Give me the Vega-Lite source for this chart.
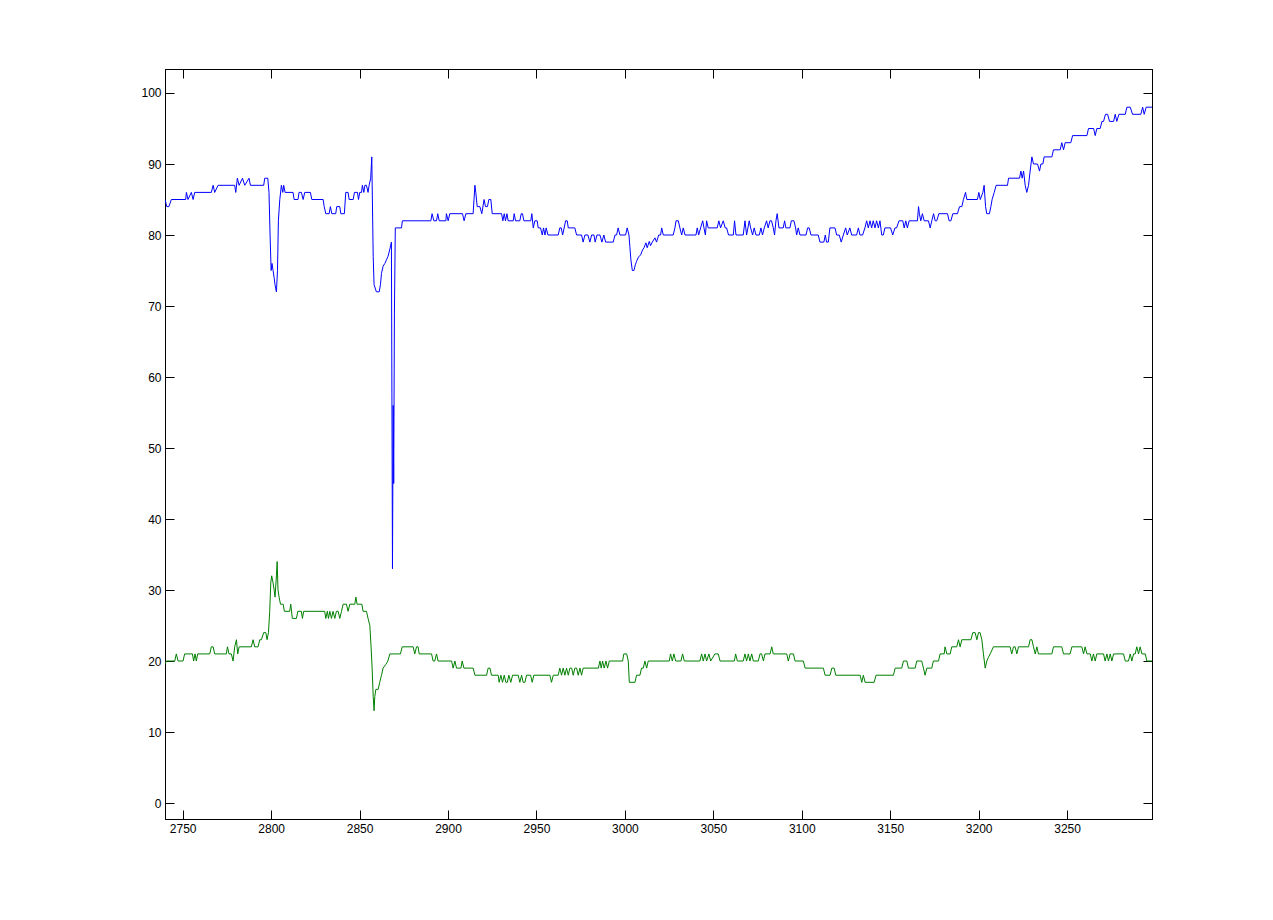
{
  "$schema": "https://vega.github.io/schema/vega-lite/v6.json",
  "width": 987,
  "height": 750,
  "autosize": {"type": "none"},
  "padding": {"left": 165, "top": 69, "right": 121, "bottom": 101},
  "background": "white",
  "config": {
    "view": {"stroke": "black", "strokeWidth": 1},
    "axis": {
      "grid": false,
      "domainColor": "black",
      "domainWidth": 1,
      "tickColor": "black",
      "tickWidth": 1,
      "tickSize": -9,
      "labelColor": "black",
      "labelFont": "Liberation Sans",
      "labelFontSize": 12,
      "title": null
    }
  },
  "datasets": {
    "blue": [
      {"x": 2740, "y": 85}, {"x": 2741, "y": 84}, {"x": 2742.2, "y": 84}, {"x": 2743.6, "y": 85},
      {"x": 2751.7, "y": 85}, {"x": 2752.1, "y": 86}, {"x": 2753, "y": 85}, {"x": 2754.9, "y": 86},
      {"x": 2755.9, "y": 85}, {"x": 2756.8, "y": 86}, {"x": 2766.2, "y": 86}, {"x": 2767.2, "y": 87},
      {"x": 2768.1, "y": 86}, {"x": 2770, "y": 87}, {"x": 2779.4, "y": 87}, {"x": 2780, "y": 86},
      {"x": 2780.9, "y": 88}, {"x": 2781.9, "y": 87}, {"x": 2783.8, "y": 88}, {"x": 2785.1, "y": 87},
      {"x": 2787.5, "y": 88}, {"x": 2788.3, "y": 87}, {"x": 2795.8, "y": 87}, {"x": 2796.4, "y": 88},
      {"x": 2798.1, "y": 88}, {"x": 2798.8, "y": 86}, {"x": 2799.4, "y": 80}, {"x": 2800, "y": 75},
      {"x": 2800.5, "y": 76}, {"x": 2801.1, "y": 75}, {"x": 2801.7, "y": 74}, {"x": 2802.2, "y": 73},
      {"x": 2803, "y": 72}, {"x": 2803.6, "y": 75}, {"x": 2804.1, "y": 82}, {"x": 2804.9, "y": 85},
      {"x": 2805.8, "y": 87}, {"x": 2806.6, "y": 86}, {"x": 2807.1, "y": 87}, {"x": 2807.9, "y": 86},
      {"x": 2812.4, "y": 86}, {"x": 2813, "y": 85}, {"x": 2815.2, "y": 85}, {"x": 2815.8, "y": 86},
      {"x": 2817.1, "y": 86}, {"x": 2818.1, "y": 85}, {"x": 2819, "y": 86}, {"x": 2822.2, "y": 86},
      {"x": 2823, "y": 85}, {"x": 2829.4, "y": 85}, {"x": 2830, "y": 84}, {"x": 2830.9, "y": 83},
      {"x": 2832.8, "y": 83}, {"x": 2833.5, "y": 84}, {"x": 2834.3, "y": 83}, {"x": 2836.5, "y": 83},
      {"x": 2837.1, "y": 84}, {"x": 2838.8, "y": 84}, {"x": 2839.4, "y": 83}, {"x": 2841.4, "y": 83},
      {"x": 2842.2, "y": 86}, {"x": 2843.5, "y": 86}, {"x": 2844.1, "y": 85}, {"x": 2846.4, "y": 85},
      {"x": 2847.1, "y": 86}, {"x": 2848.8, "y": 86}, {"x": 2849.4, "y": 85}, {"x": 2850.1, "y": 86},
      {"x": 2851.1, "y": 86}, {"x": 2851.6, "y": 87}, {"x": 2852.4, "y": 86}, {"x": 2853, "y": 87},
      {"x": 2853.9, "y": 87}, {"x": 2854.8, "y": 86}, {"x": 2855.4, "y": 87}, {"x": 2856.3, "y": 88},
      {"x": 2856.9, "y": 91}, {"x": 2857.7, "y": 77}, {"x": 2858.2, "y": 73}, {"x": 2859.5, "y": 72},
      {"x": 2861.1, "y": 72}, {"x": 2861.8, "y": 73}, {"x": 2862.4, "y": 74.6}, {"x": 2863.3, "y": 75.6},
      {"x": 2864.3, "y": 76}, {"x": 2865.2, "y": 76.5}, {"x": 2866.1, "y": 77}, {"x": 2867.1, "y": 78},
      {"x": 2868, "y": 79}, {"x": 2868.6, "y": 33}, {"x": 2869.0, "y": 56}, {"x": 2869.3, "y": 45},
      {"x": 2869.7, "y": 69}, {"x": 2870.2, "y": 81}, {"x": 2873.7, "y": 81}, {"x": 2874.2, "y": 82},
      {"x": 2890.3, "y": 82}, {"x": 2891.0, "y": 83}, {"x": 2892.0, "y": 82}, {"x": 2893.5, "y": 82},
      {"x": 2894.2, "y": 83}, {"x": 2895.0, "y": 82}, {"x": 2898.8, "y": 82}, {"x": 2899.1, "y": 83},
      {"x": 2900.1, "y": 82}, {"x": 2901.0, "y": 83}, {"x": 2908.2, "y": 83}, {"x": 2909.1, "y": 82},
      {"x": 2910.1, "y": 83}, {"x": 2914.2, "y": 83}, {"x": 2915.2, "y": 87}, {"x": 2915.7, "y": 86},
      {"x": 2916.5, "y": 84}, {"x": 2918.0, "y": 84}, {"x": 2919.1, "y": 83}, {"x": 2920.4, "y": 85},
      {"x": 2921.2, "y": 84}, {"x": 2922.3, "y": 84}, {"x": 2923.1, "y": 85}, {"x": 2924.2, "y": 85},
      {"x": 2925.0, "y": 83}, {"x": 2930.3, "y": 83}, {"x": 2931.0, "y": 82}, {"x": 2931.8, "y": 83},
      {"x": 2932.5, "y": 82}, {"x": 2933.3, "y": 83}, {"x": 2934.0, "y": 82}, {"x": 2936.9, "y": 82},
      {"x": 2937.4, "y": 83}, {"x": 2938.2, "y": 82}, {"x": 2940.6, "y": 82}, {"x": 2941.4, "y": 83},
      {"x": 2942.1, "y": 83}, {"x": 2942.9, "y": 82}, {"x": 2946.8, "y": 82}, {"x": 2947.4, "y": 83},
      {"x": 2948.2, "y": 81}, {"x": 2949.1, "y": 82}, {"x": 2950.4, "y": 82}, {"x": 2951.0, "y": 81},
      {"x": 2952.3, "y": 81}, {"x": 2953.3, "y": 80}, {"x": 2954.0, "y": 81}, {"x": 2954.8, "y": 80},
      {"x": 2955.5, "y": 81}, {"x": 2956.5, "y": 80}, {"x": 2962.3, "y": 80}, {"x": 2963.2, "y": 81},
      {"x": 2964.0, "y": 81}, {"x": 2964.8, "y": 80}, {"x": 2966.5, "y": 82}, {"x": 2967.4, "y": 82},
      {"x": 2968.0, "y": 81}, {"x": 2971.7, "y": 81}, {"x": 2972.7, "y": 80}, {"x": 2975.5, "y": 80},
      {"x": 2976.4, "y": 79}, {"x": 2977.4, "y": 80}, {"x": 2979.1, "y": 80}, {"x": 2980.2, "y": 79},
      {"x": 2981.2, "y": 80}, {"x": 2982.5, "y": 80}, {"x": 2983.2, "y": 79}, {"x": 2984.2, "y": 80},
      {"x": 2985.9, "y": 80}, {"x": 2987.0, "y": 79}, {"x": 2988.1, "y": 80}, {"x": 2989.1, "y": 79},
      {"x": 2993.4, "y": 79}, {"x": 2994.4, "y": 80}, {"x": 2995.3, "y": 80}, {"x": 2996.2, "y": 81},
      {"x": 2997.2, "y": 80}, {"x": 3000.4, "y": 80}, {"x": 3001.3, "y": 81}, {"x": 3002.3, "y": 80},
      {"x": 3002.8, "y": 78.4}, {"x": 3003.4, "y": 76.5}, {"x": 3004.2, "y": 75}, {"x": 3005.1, "y": 75},
      {"x": 3005.9, "y": 75.8}, {"x": 3006.6, "y": 76.3}, {"x": 3007.7, "y": 76.9}, {"x": 3008.9, "y": 77.2},
      {"x": 3010.0, "y": 77.9}, {"x": 3010.8, "y": 78.2}, {"x": 3011.9, "y": 78.9}, {"x": 3012.6, "y": 78.2},
      {"x": 3013.8, "y": 79.1}, {"x": 3014.5, "y": 78.5}, {"x": 3015.5, "y": 79}, {"x": 3017.0, "y": 79.6},
      {"x": 3017.9, "y": 79}, {"x": 3019.1, "y": 80}, {"x": 3020.2, "y": 80}, {"x": 3020.8, "y": 81},
      {"x": 3021.7, "y": 80}, {"x": 3027.3, "y": 80}, {"x": 3028.3, "y": 81}, {"x": 3028.9, "y": 82},
      {"x": 3030.2, "y": 82}, {"x": 3031.1, "y": 81}, {"x": 3032.1, "y": 80}, {"x": 3033.0, "y": 81},
      {"x": 3034.0, "y": 80}, {"x": 3040.2, "y": 80}, {"x": 3040.9, "y": 81}, {"x": 3041.7, "y": 80},
      {"x": 3042.8, "y": 81}, {"x": 3044.0, "y": 82}, {"x": 3044.7, "y": 81}, {"x": 3045.5, "y": 80},
      {"x": 3046.2, "y": 82}, {"x": 3047.1, "y": 81}, {"x": 3052.2, "y": 81}, {"x": 3053.1, "y": 82},
      {"x": 3054.1, "y": 81}, {"x": 3055.6, "y": 82}, {"x": 3056.7, "y": 81}, {"x": 3057.5, "y": 81},
      {"x": 3058.6, "y": 80}, {"x": 3061.3, "y": 80}, {"x": 3062.0, "y": 82}, {"x": 3062.8, "y": 80},
      {"x": 3066.9, "y": 80}, {"x": 3067.9, "y": 82}, {"x": 3068.8, "y": 80}, {"x": 3070.3, "y": 82},
      {"x": 3071.1, "y": 81}, {"x": 3072.2, "y": 80}, {"x": 3073.1, "y": 81}, {"x": 3074.1, "y": 80},
      {"x": 3076.0, "y": 80}, {"x": 3076.9, "y": 81}, {"x": 3077.8, "y": 80}, {"x": 3078.8, "y": 81},
      {"x": 3080.1, "y": 82}, {"x": 3081.0, "y": 81}, {"x": 3082.0, "y": 82}, {"x": 3082.9, "y": 82},
      {"x": 3083.9, "y": 81}, {"x": 3084.6, "y": 80}, {"x": 3085.4, "y": 82}, {"x": 3086.1, "y": 83},
      {"x": 3087.1, "y": 81}, {"x": 3089.5, "y": 81}, {"x": 3090.3, "y": 82}, {"x": 3091.0, "y": 81},
      {"x": 3093.3, "y": 81}, {"x": 3094.1, "y": 82}, {"x": 3095.6, "y": 82}, {"x": 3096.5, "y": 81},
      {"x": 3097.1, "y": 80}, {"x": 3098.0, "y": 81}, {"x": 3099.0, "y": 80}, {"x": 3102.4, "y": 80},
      {"x": 3103.3, "y": 81}, {"x": 3104.2, "y": 81}, {"x": 3105.2, "y": 80}, {"x": 3109.3, "y": 80},
      {"x": 3110.3, "y": 79}, {"x": 3112.5, "y": 79}, {"x": 3113.3, "y": 80}, {"x": 3114.0, "y": 79},
      {"x": 3115.0, "y": 79}, {"x": 3115.9, "y": 81}, {"x": 3118.8, "y": 81}, {"x": 3119.7, "y": 80},
      {"x": 3121.2, "y": 80}, {"x": 3122.3, "y": 79}, {"x": 3123.5, "y": 80}, {"x": 3124.8, "y": 81},
      {"x": 3125.7, "y": 80}, {"x": 3127.2, "y": 81}, {"x": 3128.2, "y": 80}, {"x": 3131.0, "y": 80},
      {"x": 3132.0, "y": 81}, {"x": 3132.9, "y": 80}, {"x": 3134.4, "y": 80}, {"x": 3135.7, "y": 81},
      {"x": 3136.7, "y": 82}, {"x": 3137.6, "y": 81}, {"x": 3138.6, "y": 82}, {"x": 3139.5, "y": 81},
      {"x": 3140.4, "y": 82}, {"x": 3141.4, "y": 81}, {"x": 3142.3, "y": 82}, {"x": 3143.3, "y": 81},
      {"x": 3144.2, "y": 82}, {"x": 3145.2, "y": 80}, {"x": 3146.1, "y": 80}, {"x": 3147.0, "y": 81},
      {"x": 3150.2, "y": 81}, {"x": 3151.4, "y": 80}, {"x": 3152.7, "y": 81}, {"x": 3153.6, "y": 81},
      {"x": 3155.0, "y": 82}, {"x": 3157.1, "y": 82}, {"x": 3157.9, "y": 81}, {"x": 3158.8, "y": 82},
      {"x": 3159.7, "y": 81}, {"x": 3160.7, "y": 82}, {"x": 3165.4, "y": 82}, {"x": 3166.0, "y": 84},
      {"x": 3166.5, "y": 83}, {"x": 3167.3, "y": 82}, {"x": 3168.2, "y": 83}, {"x": 3169.2, "y": 82},
      {"x": 3171.6, "y": 82}, {"x": 3172.6, "y": 81}, {"x": 3173.5, "y": 82}, {"x": 3174.5, "y": 83},
      {"x": 3175.4, "y": 82}, {"x": 3176.3, "y": 82}, {"x": 3177.5, "y": 83}, {"x": 3182.4, "y": 83},
      {"x": 3183.3, "y": 82}, {"x": 3184.3, "y": 82}, {"x": 3185.4, "y": 83}, {"x": 3188.0, "y": 83},
      {"x": 3189.2, "y": 84}, {"x": 3190.5, "y": 84}, {"x": 3191.4, "y": 85}, {"x": 3192.6, "y": 86},
      {"x": 3193.3, "y": 85}, {"x": 3199.3, "y": 85}, {"x": 3200.1, "y": 86}, {"x": 3200.9, "y": 85},
      {"x": 3202.4, "y": 86}, {"x": 3203.1, "y": 87}, {"x": 3203.9, "y": 84}, {"x": 3204.6, "y": 83},
      {"x": 3206.1, "y": 83}, {"x": 3206.9, "y": 84}, {"x": 3207.6, "y": 85}, {"x": 3208.8, "y": 86},
      {"x": 3209.9, "y": 87}, {"x": 3216.3, "y": 87}, {"x": 3216.9, "y": 88}, {"x": 3223.1, "y": 88},
      {"x": 3223.9, "y": 89}, {"x": 3224.6, "y": 88}, {"x": 3225.4, "y": 89}, {"x": 3226.3, "y": 87},
      {"x": 3227.2, "y": 86}, {"x": 3228.2, "y": 87}, {"x": 3229.1, "y": 89}, {"x": 3230.1, "y": 91},
      {"x": 3231.0, "y": 90}, {"x": 3233.3, "y": 90}, {"x": 3234.4, "y": 89}, {"x": 3235.2, "y": 90},
      {"x": 3236.3, "y": 90}, {"x": 3237.0, "y": 91}, {"x": 3241.4, "y": 91}, {"x": 3242.3, "y": 92},
      {"x": 3246.1, "y": 92}, {"x": 3247.0, "y": 93}, {"x": 3248.0, "y": 92}, {"x": 3248.9, "y": 93},
      {"x": 3252.1, "y": 93}, {"x": 3253.1, "y": 94}, {"x": 3261.2, "y": 94}, {"x": 3262.1, "y": 95},
      {"x": 3265.0, "y": 95}, {"x": 3265.9, "y": 94}, {"x": 3266.8, "y": 95}, {"x": 3268.7, "y": 95},
      {"x": 3269.7, "y": 96}, {"x": 3270.6, "y": 96}, {"x": 3271.7, "y": 97}, {"x": 3272.9, "y": 97},
      {"x": 3274.0, "y": 96}, {"x": 3276.3, "y": 96}, {"x": 3277.2, "y": 97}, {"x": 3278.1, "y": 96},
      {"x": 3279.3, "y": 97}, {"x": 3282.9, "y": 97}, {"x": 3283.8, "y": 98}, {"x": 3285.7, "y": 98},
      {"x": 3287.0, "y": 97}, {"x": 3291.7, "y": 97}, {"x": 3292.7, "y": 98}, {"x": 3293.6, "y": 97},
      {"x": 3294.7, "y": 98}, {"x": 3298, "y": 98}
    ],
    "green": [
      {"x": 2740, "y": 19.6}, {"x": 2740.8, "y": 20}, {"x": 2745.5, "y": 20}, {"x": 2746.4, "y": 21},
      {"x": 2747.4, "y": 20}, {"x": 2750.2, "y": 20}, {"x": 2751.1, "y": 21}, {"x": 2755.5, "y": 21},
      {"x": 2756.2, "y": 20}, {"x": 2757, "y": 21}, {"x": 2757.7, "y": 20}, {"x": 2758.5, "y": 21},
      {"x": 2765.3, "y": 21}, {"x": 2766.2, "y": 22}, {"x": 2767.2, "y": 22}, {"x": 2768.1, "y": 21},
      {"x": 2774.7, "y": 21}, {"x": 2775.3, "y": 22}, {"x": 2776.2, "y": 21}, {"x": 2777.5, "y": 21},
      {"x": 2778.5, "y": 20}, {"x": 2779.4, "y": 22}, {"x": 2780.4, "y": 23}, {"x": 2781.1, "y": 21},
      {"x": 2781.9, "y": 22}, {"x": 2788.8, "y": 22}, {"x": 2789.8, "y": 23}, {"x": 2790.7, "y": 22},
      {"x": 2792.6, "y": 22}, {"x": 2793.6, "y": 23}, {"x": 2794.5, "y": 23}, {"x": 2795.8, "y": 24},
      {"x": 2797, "y": 24}, {"x": 2797.7, "y": 23}, {"x": 2798.5, "y": 24}, {"x": 2799.2, "y": 27},
      {"x": 2799.8, "y": 31}, {"x": 2800.3, "y": 32}, {"x": 2801.1, "y": 31}, {"x": 2801.7, "y": 30},
      {"x": 2802.2, "y": 29}, {"x": 2803, "y": 32}, {"x": 2803.4, "y": 34}, {"x": 2803.9, "y": 30},
      {"x": 2804.5, "y": 29}, {"x": 2805.3, "y": 28}, {"x": 2806.8, "y": 28}, {"x": 2807.5, "y": 27},
      {"x": 2810.5, "y": 27}, {"x": 2811.1, "y": 28}, {"x": 2812, "y": 26}, {"x": 2814.3, "y": 26},
      {"x": 2815.1, "y": 27}, {"x": 2817.1, "y": 27}, {"x": 2817.7, "y": 26}, {"x": 2818.4, "y": 27},
      {"x": 2830.3, "y": 27}, {"x": 2830.9, "y": 26}, {"x": 2831.8, "y": 27}, {"x": 2832.4, "y": 26},
      {"x": 2833.2, "y": 27}, {"x": 2834.1, "y": 26}, {"x": 2835.0, "y": 27}, {"x": 2836.0, "y": 26},
      {"x": 2836.9, "y": 27}, {"x": 2837.9, "y": 27}, {"x": 2838.8, "y": 26}, {"x": 2839.8, "y": 27},
      {"x": 2840.7, "y": 28}, {"x": 2842.6, "y": 28}, {"x": 2843.5, "y": 27}, {"x": 2844.5, "y": 28},
      {"x": 2847.3, "y": 28}, {"x": 2847.9, "y": 29}, {"x": 2848.6, "y": 28}, {"x": 2851.3, "y": 28},
      {"x": 2852, "y": 27}, {"x": 2853.9, "y": 27}, {"x": 2854.8, "y": 26}, {"x": 2855.8, "y": 25},
      {"x": 2856.5, "y": 22}, {"x": 2857.1, "y": 19}, {"x": 2857.7, "y": 15}, {"x": 2858.2, "y": 13},
      {"x": 2858.6, "y": 15}, {"x": 2859.2, "y": 16}, {"x": 2860.5, "y": 16}, {"x": 2861.4, "y": 17},
      {"x": 2862.4, "y": 18}, {"x": 2863.3, "y": 19}, {"x": 2864.8, "y": 19.5}, {"x": 2866, "y": 20},
      {"x": 2867.1, "y": 21}, {"x": 2873.1, "y": 21}, {"x": 2874.1, "y": 22}, {"x": 2880.3, "y": 22},
      {"x": 2881.2, "y": 21}, {"x": 2882.2, "y": 22}, {"x": 2883.1, "y": 22}, {"x": 2883.7, "y": 21},
      {"x": 2890.7, "y": 21}, {"x": 2891.6, "y": 20}, {"x": 2892.5, "y": 20}, {"x": 2893.5, "y": 21},
      {"x": 2894.4, "y": 20}, {"x": 2902.0, "y": 20}, {"x": 2902.9, "y": 19}, {"x": 2903.9, "y": 20},
      {"x": 2904.8, "y": 19}, {"x": 2907.3, "y": 19}, {"x": 2908.0, "y": 20}, {"x": 2909.0, "y": 19},
      {"x": 2914.2, "y": 19}, {"x": 2915.2, "y": 18}, {"x": 2921.8, "y": 18}, {"x": 2922.7, "y": 19},
      {"x": 2923.7, "y": 19}, {"x": 2924.6, "y": 18}, {"x": 2928.4, "y": 18}, {"x": 2928.9, "y": 17},
      {"x": 2929.9, "y": 18}, {"x": 2930.8, "y": 17}, {"x": 2931.8, "y": 18}, {"x": 2932.7, "y": 17},
      {"x": 2933.5, "y": 17}, {"x": 2934.4, "y": 18}, {"x": 2935.5, "y": 17}, {"x": 2936.5, "y": 18},
      {"x": 2939.7, "y": 18}, {"x": 2940.6, "y": 17}, {"x": 2941.6, "y": 18}, {"x": 2942.5, "y": 17},
      {"x": 2943.5, "y": 17}, {"x": 2944.4, "y": 18}, {"x": 2946.7, "y": 18}, {"x": 2947.6, "y": 17},
      {"x": 2948.5, "y": 18}, {"x": 2957.6, "y": 18}, {"x": 2958.5, "y": 17}, {"x": 2959.5, "y": 18},
      {"x": 2962.3, "y": 18}, {"x": 2963.2, "y": 19}, {"x": 2964.2, "y": 18}, {"x": 2965.1, "y": 19},
      {"x": 2966.1, "y": 18}, {"x": 2967.0, "y": 19}, {"x": 2968.0, "y": 18}, {"x": 2968.9, "y": 19},
      {"x": 2969.9, "y": 19}, {"x": 2970.8, "y": 18}, {"x": 2971.7, "y": 19}, {"x": 2972.7, "y": 19},
      {"x": 2973.6, "y": 18}, {"x": 2974.6, "y": 19}, {"x": 2975.5, "y": 18}, {"x": 2976.4, "y": 19},
      {"x": 2985.0, "y": 19}, {"x": 2985.9, "y": 20}, {"x": 2986.6, "y": 19}, {"x": 2987.4, "y": 20},
      {"x": 2988.3, "y": 19}, {"x": 2989.3, "y": 20}, {"x": 2990.2, "y": 19}, {"x": 2991.2, "y": 20},
      {"x": 2998.7, "y": 20}, {"x": 2999.4, "y": 21}, {"x": 3001.0, "y": 21}, {"x": 3001.9, "y": 20},
      {"x": 3002.5, "y": 17}, {"x": 3005.7, "y": 17}, {"x": 3006.6, "y": 18}, {"x": 3008.5, "y": 18},
      {"x": 3009.4, "y": 19}, {"x": 3010.4, "y": 19}, {"x": 3011.3, "y": 20}, {"x": 3012.3, "y": 19},
      {"x": 3013.2, "y": 20}, {"x": 3025.1, "y": 20}, {"x": 3025.8, "y": 21}, {"x": 3026.8, "y": 20},
      {"x": 3027.7, "y": 21}, {"x": 3028.7, "y": 20}, {"x": 3031.7, "y": 20}, {"x": 3032.6, "y": 21},
      {"x": 3033.6, "y": 20}, {"x": 3042.4, "y": 20}, {"x": 3043.4, "y": 21}, {"x": 3044.3, "y": 20},
      {"x": 3045.3, "y": 21}, {"x": 3046.2, "y": 20}, {"x": 3047.5, "y": 21}, {"x": 3048.5, "y": 20},
      {"x": 3050.9, "y": 21}, {"x": 3052.8, "y": 21}, {"x": 3053.8, "y": 20}, {"x": 3061.9, "y": 20},
      {"x": 3062.6, "y": 21}, {"x": 3063.6, "y": 20}, {"x": 3066.9, "y": 20}, {"x": 3067.9, "y": 21},
      {"x": 3068.8, "y": 20}, {"x": 3069.8, "y": 21}, {"x": 3070.7, "y": 20}, {"x": 3071.7, "y": 21},
      {"x": 3072.6, "y": 20}, {"x": 3075.4, "y": 20}, {"x": 3076.4, "y": 21}, {"x": 3077.3, "y": 21},
      {"x": 3078.3, "y": 20}, {"x": 3079.2, "y": 21}, {"x": 3082.1, "y": 21}, {"x": 3083.0, "y": 22},
      {"x": 3083.9, "y": 21}, {"x": 3091.5, "y": 21}, {"x": 3092.4, "y": 20}, {"x": 3093.4, "y": 21},
      {"x": 3095.3, "y": 21}, {"x": 3096.2, "y": 20}, {"x": 3100.9, "y": 20}, {"x": 3101.9, "y": 19},
      {"x": 3112.2, "y": 19}, {"x": 3113.2, "y": 18}, {"x": 3116.0, "y": 18}, {"x": 3117.0, "y": 19},
      {"x": 3118.3, "y": 19}, {"x": 3119.2, "y": 18}, {"x": 3133.0, "y": 18}, {"x": 3133.9, "y": 17},
      {"x": 3134.8, "y": 18}, {"x": 3135.8, "y": 17}, {"x": 3140.9, "y": 17}, {"x": 3142.0, "y": 18},
      {"x": 3151.8, "y": 18}, {"x": 3152.8, "y": 19}, {"x": 3156.5, "y": 19}, {"x": 3157.5, "y": 20},
      {"x": 3159.4, "y": 20}, {"x": 3160.3, "y": 19}, {"x": 3164.1, "y": 19}, {"x": 3165.0, "y": 20},
      {"x": 3167.8, "y": 20}, {"x": 3168.8, "y": 19}, {"x": 3169.7, "y": 18}, {"x": 3170.7, "y": 19},
      {"x": 3173.5, "y": 19}, {"x": 3174.4, "y": 20}, {"x": 3177.3, "y": 20}, {"x": 3178.2, "y": 21},
      {"x": 3180.5, "y": 21}, {"x": 3181.0, "y": 22}, {"x": 3182.0, "y": 21}, {"x": 3183.9, "y": 21},
      {"x": 3184.8, "y": 22}, {"x": 3187.6, "y": 22}, {"x": 3188.6, "y": 23}, {"x": 3189.5, "y": 22},
      {"x": 3190.5, "y": 23}, {"x": 3195.6, "y": 23}, {"x": 3196.7, "y": 24}, {"x": 3198.0, "y": 24},
      {"x": 3199.0, "y": 23}, {"x": 3199.9, "y": 24}, {"x": 3200.8, "y": 24}, {"x": 3201.8, "y": 23},
      {"x": 3202.7, "y": 21}, {"x": 3203.7, "y": 19}, {"x": 3204.6, "y": 20}, {"x": 3205.5, "y": 20.5},
      {"x": 3206.5, "y": 21}, {"x": 3208.4, "y": 22}, {"x": 3217.8, "y": 22}, {"x": 3218.7, "y": 21},
      {"x": 3219.7, "y": 22}, {"x": 3220.6, "y": 22}, {"x": 3221.6, "y": 21}, {"x": 3222.5, "y": 22},
      {"x": 3228.2, "y": 22}, {"x": 3229.1, "y": 23}, {"x": 3230.1, "y": 23}, {"x": 3231.0, "y": 22},
      {"x": 3232.0, "y": 21}, {"x": 3232.9, "y": 22}, {"x": 3233.8, "y": 21}, {"x": 3241.4, "y": 21},
      {"x": 3242.3, "y": 22}, {"x": 3247.0, "y": 22}, {"x": 3248.0, "y": 21}, {"x": 3251.7, "y": 21},
      {"x": 3252.7, "y": 22}, {"x": 3258.3, "y": 22}, {"x": 3259.3, "y": 21}, {"x": 3260.2, "y": 22},
      {"x": 3261.2, "y": 21}, {"x": 3263.1, "y": 21}, {"x": 3264.0, "y": 20}, {"x": 3264.9, "y": 21},
      {"x": 3265.9, "y": 20}, {"x": 3266.8, "y": 21}, {"x": 3270.6, "y": 21}, {"x": 3271.5, "y": 20},
      {"x": 3272.5, "y": 21}, {"x": 3273.4, "y": 20}, {"x": 3274.4, "y": 21}, {"x": 3275.3, "y": 20},
      {"x": 3276.3, "y": 21}, {"x": 3281.9, "y": 21}, {"x": 3282.9, "y": 20}, {"x": 3284.7, "y": 20},
      {"x": 3285.7, "y": 21}, {"x": 3286.6, "y": 20}, {"x": 3287.6, "y": 21}, {"x": 3288.5, "y": 21},
      {"x": 3289.4, "y": 22}, {"x": 3290.4, "y": 21}, {"x": 3291.3, "y": 22}, {"x": 3292.3, "y": 21},
      {"x": 3294.2, "y": 21}, {"x": 3295.1, "y": 20}, {"x": 3298, "y": 20}
    ]
  },
  "layer": [
    {
      "data": {"name": "blue"},
      "mark": {"type": "line", "color": "#0000ff", "strokeWidth": 1, "clip": true},
      "encoding": {
        "x": {"field": "x", "type": "quantitative",
              "scale": {"domain": [2740, 3298], "nice": false, "zero": false},
              "axis": {"orient": "bottom", "values": [2750, 2800, 2850, 2900, 2950, 3000, 3050, 3100, 3150, 3200, 3250], "labelPadding": 13, "format": "d"}},
        "y": {"field": "y", "type": "quantitative",
              "scale": {"domain": [-2.25, 103.38], "nice": false, "zero": false},
              "axis": {"orient": "left", "values": [0, 10, 20, 30, 40, 50, 60, 70, 80, 90, 100], "labelPadding": 13, "format": "d"}}
      }
    },
    {
      "data": {"name": "green"},
      "mark": {"type": "line", "color": "#008000", "strokeWidth": 1, "clip": true},
      "encoding": {
        "x": {"field": "x", "type": "quantitative",
              "scale": {"domain": [2740, 3298], "nice": false, "zero": false},
              "axis": {"orient": "top", "values": [2750, 2800, 2850, 2900, 2950, 3000, 3050, 3100, 3150, 3200, 3250], "labels": false}},
        "y": {"field": "y", "type": "quantitative",
              "scale": {"domain": [-2.25, 103.38], "nice": false, "zero": false},
              "axis": {"orient": "right", "values": [0, 10, 20, 30, 40, 50, 60, 70, 80, 90, 100], "labels": false}}
      }
    }
  ],
  "resolve": {"axis": {"x": "independent", "y": "independent"}}
}
